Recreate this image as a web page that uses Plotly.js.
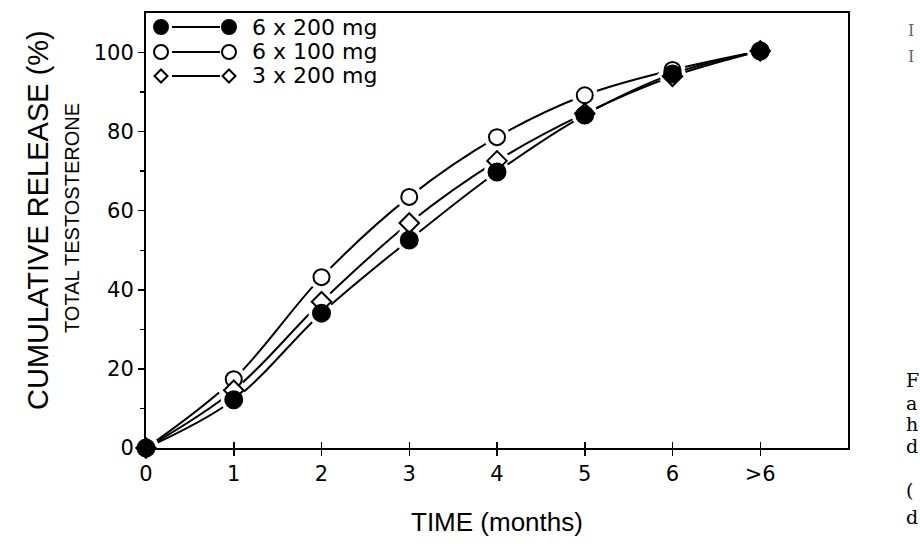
<!DOCTYPE html>
<html>
<head>
<meta charset="utf-8">
<script src="https://cdn.plot.ly/plotly-3.0.1.min.js"></script>
<style>html,body{margin:0;padding:0;background:#fff;}#chart{width:920px;height:544px;}</style>
</head>
<body>
<div id="chart"></div>
<script>
// ---- data ----
const months = [0, 1, 2, 3, 4, 5, 6, 7];
const tickLabels = ["0", "1", "2", "3", "4", "5", "6", ">6"];
const seriesNames = ["6 x 200 mg", "6 x 100 mg", "3 x 200 mg"];
const release6x200 = [0, 12.2, 34.1, 52.6, 69.8, 84.2, 94.6, 100.4];
const release6x100 = [0, 17.4, 43.2, 63.5, 78.6, 89.2, 95.6, 100.4];
const release3x200 = [0, 14.6, 37.0, 56.9, 72.6, 84.6, 94.0, 100.4];

// smooth line with a white halo round each point (leaves a small gap like the original)
const lineTrace = (y, sym) => ({
  x: months, y: y, type: 'scatter', mode: 'lines+markers',
  line: {color: '#000', width: 2, shape: 'spline', smoothing: 1},
  marker: {symbol: sym, size: 26, color: '#fff'},
  hoverinfo: 'skip', showlegend: false
});
const markTrace = (y, sym, fill, name, size) => ({
  x: months, y: y, type: 'scatter', mode: 'markers', name: name,
  marker: {symbol: sym, size: size, color: fill, line: {color: '#000', width: 2}},
  showlegend: false, cliponaxis: false
});

const data = [
  lineTrace(release6x100, 'circle'), lineTrace(release3x200, 'diamond'), lineTrace(release6x200, 'circle'),
  markTrace(release6x100, 'circle', '#fff', seriesNames[1], 16),
  markTrace(release3x200, 'diamond', '#fff', seriesNames[2], 15),
  markTrace(release6x200, 'circle', '#000', seriesNames[0], 17)
];

// plot area in pixels: x 146..848, y 13..448
const L = 146, R = 848, T = 13, B = 448;
const px = (p) => (p - L) / (R - L);
const py = (p) => (B - p) / (B - T);

const sans = 'Liberation Sans, Arial, sans-serif';
const wide = 'DejaVu Sans, Verdana, sans-serif';

// custom legend (marker — line — marker)
const legendRows = [27, 52, 76];
const legendSyms = ['filled', 'open', 'diamond'];
const shapes = [];
const annotations = [];
legendRows.forEach((ry, i) => {
  const sym = legendSyms[i];
  shapes.push({type: 'line', xref: 'paper', yref: 'paper', x0: px(172), x1: px(220), y0: py(ry), y1: py(ry),
    line: {color: '#000', width: 2}});
  [161, 229].forEach(cx => {
    if (sym === 'diamond') {
      shapes.push({type: 'path', xref: 'paper', yref: 'paper', xsizemode: 'pixel', ysizemode: 'pixel',
        xanchor: px(cx), yanchor: py(ry), path: 'M0,-6.5 L6.5,0 L0,6.5 L-6.5,0 Z',
        fillcolor: '#fff', line: {color: '#000', width: 2}});
    } else {
      shapes.push({type: 'circle', xref: 'paper', yref: 'paper', xsizemode: 'pixel', ysizemode: 'pixel',
        xanchor: px(cx), yanchor: py(ry), x0: -7, x1: 7, y0: -7, y1: 7,
        fillcolor: sym === 'filled' ? '#000' : '#fff', line: {color: '#000', width: 2}});
    }
  });
  annotations.push({xref: 'paper', yref: 'paper', x: px(251), y: py(ry), xanchor: 'left', yanchor: 'middle',
    text: seriesNames[i], showarrow: false, borderpad: 0,
    font: {family: wide, size: 22, color: '#000'}});
});

// axis titles
annotations.push({xref: 'paper', yref: 'paper', x: px(38), y: py(220), xanchor: 'center', yanchor: 'middle',
  textangle: -90, showarrow: false,
  text: 'CUMULATIVE RELEASE (%)', font: {family: sans, size: 29, color: '#000'}});
annotations.push({xref: 'paper', yref: 'paper', x: px(72), y: py(218), xanchor: 'center', yanchor: 'middle',
  textangle: -90, showarrow: false,
  text: 'TOTAL TESTOSTERONE', font: {family: sans, size: 20, color: '#000'}});
annotations.push({xref: 'paper', yref: 'paper', x: px(497), y: py(522), xanchor: 'center', yanchor: 'middle',
  showarrow: false,
  text: 'TIME (months)', font: {family: sans, size: 26, color: '#000'}});

// cropped neighbouring page text on the right
const sideLetters = [['F', 380], ['a', 403], ['h', 424], ['d', 446], ['(', 490], ['d', 517]];
sideLetters.forEach(([t, yy]) => {
  annotations.push({xref: 'paper', yref: 'paper', x: px(904), y: py(yy), xanchor: 'left', yanchor: 'middle',
    text: t, showarrow: false, font: {family: 'DejaVu Serif, Liberation Serif, serif', size: 19, color: '#000'}});
});
[30, 56].forEach((yy) => {
  annotations.push({xref: 'paper', yref: 'paper', x: px(906), y: py(yy), xanchor: 'left', yanchor: 'middle',
    text: 'I', showarrow: false, font: {family: 'DejaVu Serif, Liberation Serif, serif', size: 16, color: '#666'}});
});

const tickFont = {family: wide, size: 21, color: '#000'};
const layout = {
  width: 920, height: 544,
  margin: {l: L, r: 920 - R, t: T, b: 544 - B},
  paper_bgcolor: '#fff', plot_bgcolor: '#fff',
  showlegend: false,
  xaxis: {
    range: [0, 8], tickmode: 'array', tickvals: months, ticktext: tickLabels,
    ticks: 'outside', ticklen: 6, tickwidth: 1.5, tickcolor: '#000',
    showline: true, linecolor: '#000', linewidth: 2, mirror: true,
    showgrid: false, zeroline: false, tickfont: tickFont
  },
  xaxis2: {
    overlaying: 'x', matches: 'x', range: [0, 8], tickmode: 'array', tickvals: months,
    ticks: 'inside', ticklen: 6, tickwidth: 1.5, tickcolor: '#000', showticklabels: false,
    showline: false, showgrid: false, zeroline: false, side: 'bottom'
  },
  yaxis: {
    range: [0, 110], tickmode: 'array', tickvals: [0, 20, 40, 60, 80, 100],
    ticks: 'outside', ticklen: 6, tickwidth: 1.5, tickcolor: '#000',
    minor: {tickmode: 'array', tickvals: [10, 30, 50, 70, 90], ticks: 'outside', ticklen: 4, tickcolor: '#000', tickwidth: 1.5},
    showline: true, linecolor: '#000', linewidth: 2, mirror: true,
    showgrid: false, zeroline: false, tickfont: tickFont
  },
  shapes: shapes,
  annotations: annotations
};

// dummy trace to display the inside-tick overlay axis
data.unshift({x: [0], y: [0], xaxis: 'x2', type: 'scatter', mode: 'markers',
  marker: {opacity: 0}, hoverinfo: 'skip', showlegend: false});

Plotly.newPlot('chart', data, layout, {displayModeBar: false, staticPlot: true});
</script>
</body>
</html>
